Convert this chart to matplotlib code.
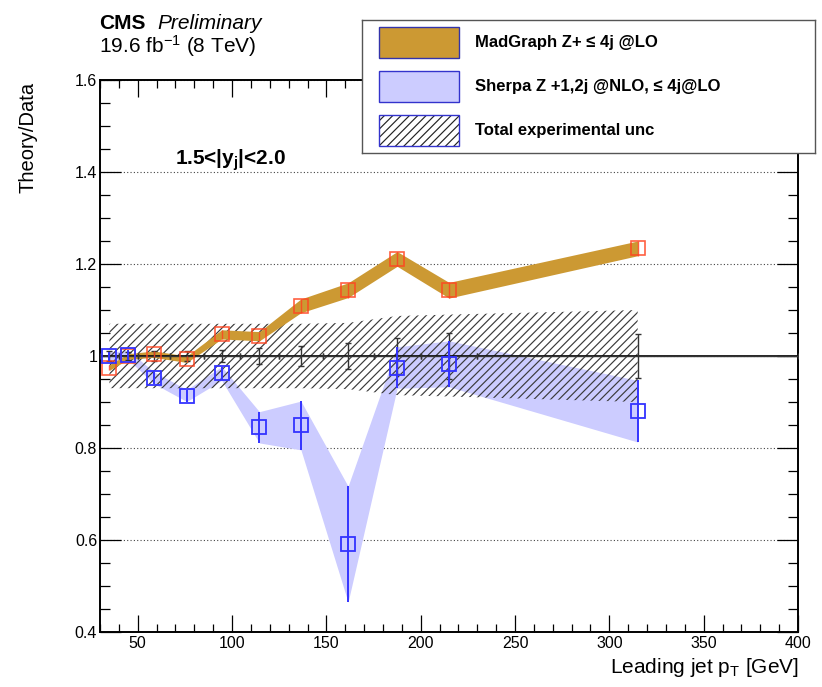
import numpy as np
import matplotlib
matplotlib.use('Agg')
import matplotlib.pyplot as plt
from matplotlib.patches import Rectangle
from matplotlib.ticker import MultipleLocator, FuncFormatter

plt.rcParams['font.family'] = ['Liberation Sans', 'DejaVu Sans']
plt.rcParams['mathtext.default'] = 'regular'
plt.rcParams['hatch.linewidth'] = 0.85

# ── Binning (leading jet pT, GeV) ─────────────────────────────────────────
pt_center = np.array([35, 45, 58.5, 76, 94.5, 114.5, 136.5, 161.5, 187.5, 215, 315])
pt_edges = np.array([30, 40, 50, 67, 85, 104, 125, 148, 175, 200, 230, 400])

# Data / data with its statistical error
data_err = np.array([0.010, 0.008, 0.010, 0.011, 0.014, 0.017, 0.022, 0.029, 0.040, 0.050, 0.047])

# Total experimental uncertainty band
unc_hi = np.array([1.070, 1.070, 1.070, 1.070, 1.070, 1.070, 1.070, 1.072, 1.087, 1.090, 1.100])
unc_lo = np.array([0.930, 0.930, 0.930, 0.930, 0.930, 0.930, 0.930, 0.928, 0.915, 0.912, 0.900])

# MadGraph Z + <=4j @LO
mg_ratio = np.array([0.975, 0.999, 1.004, 0.993, 1.047, 1.043, 1.109, 1.143, 1.211, 1.143, 1.234])
mg_err = np.array([0.006, 0.006, 0.007, 0.007, 0.010, 0.010, 0.015, 0.016, 0.016, 0.017, 0.016])

# Sherpa Z +1,2j @NLO, <=4j @LO
sh_ratio = np.array([0.999, 1.002, 0.953, 0.914, 0.962, 0.845, 0.849, 0.591, 0.975, 0.983, 0.880])
sh_err = np.array([0.010, 0.010, 0.013, 0.013, 0.015, 0.034, 0.053, 0.126, 0.045, 0.050, 0.067])

legend_labels = ['MadGraph Z+ \u2264 4j @LO',
                 'Sherpa Z +1,2j @NLO, \u2264 4j@LO',
                 'Total experimental unc']

MG_COL = '#cc9933'
SH_COL = '#ccccff'
SH_LINE = '#3333ff'
MG_MARK = '#ff4420'
HATCH = '////'

W, H = 822, 687
fig = plt.figure(figsize=(W / 100, H / 100), dpi=100)
ax = fig.add_axes([100 / W, 55 / H, 698 / W, 552 / H])

ax.fill_between(pt_center, sh_ratio - sh_err, sh_ratio + sh_err,
                color=SH_COL, lw=0, zorder=1)
ax.fill_between(pt_center, unc_lo, unc_hi, facecolor='none',
                edgecolor='#3a3a3a', hatch=HATCH, lw=0, zorder=2)
ax.fill_between(pt_center, mg_ratio - mg_err, mg_ratio + mg_err,
                color=MG_COL, lw=0, zorder=3)
ax.axhline(1.0, color='black', lw=1.2, zorder=4)

# data points sit at 1 by construction
ones = np.ones_like(pt_center)
xerr = [pt_center - pt_edges[:-1], pt_edges[1:] - pt_center]
ax.errorbar(pt_center, ones, xerr=xerr, yerr=data_err, fmt='none',
            ecolor='#333333', elinewidth=1.0, capsize=2.5, capthick=1.0, zorder=5)

ax.errorbar(pt_center, mg_ratio, yerr=mg_err, fmt='s', mfc='none',
            mec=MG_MARK, ecolor=MG_MARK, ms=9.5, mew=1.2, elinewidth=1.0,
            alpha=0.85, zorder=6)
ax.errorbar(pt_center, sh_ratio, yerr=sh_err, fmt='s', mfc='none',
            mec=SH_LINE, ecolor=SH_LINE, ms=9.5, mew=1.3, elinewidth=1.4,
            zorder=7)

ax.set_xlim(30, 400)
ax.set_ylim(0.4, 1.6)
ax.xaxis.set_major_locator(MultipleLocator(50))
ax.xaxis.set_minor_locator(MultipleLocator(10))
ax.yaxis.set_major_locator(MultipleLocator(0.2))
ax.yaxis.set_minor_locator(MultipleLocator(0.05))
ax.xaxis.set_major_formatter(FuncFormatter(lambda v, p: f'{v:g}'))
ax.yaxis.set_major_formatter(FuncFormatter(lambda v, p: f'{round(v, 2):g}'))
ax.tick_params(which='both', direction='in', top=True, right=True, width=0.9,
               labelsize=11.5, colors='black')
ax.tick_params(axis='x', which='major', length=12, pad=3)
ax.tick_params(axis='x', which='minor', length=6)
ax.tick_params(axis='y', which='major', length=15, pad=2)
ax.tick_params(axis='y', which='minor', length=7.5)
for s in ax.spines.values():
    s.set_linewidth(1.4)
ax.grid(axis='y', which='major', linestyle=(0, (1, 2)), color='#444444', lw=0.8)
ax.set_axisbelow(True)

fig.text(799 / W, 1 - 673 / H, 'Leading jet p$_{T}$ [GeV]', ha='right',
         va='baseline', fontsize=15)
fig.text(28 / W, 1 - 82 / H, 'Theory/Data', rotation=90, ha='center',
         va='top', fontsize=14.5)

fig.text(99 / W, 1 - 29 / H, 'CMS', fontweight='bold', fontsize=15, va='baseline')
fig.text(157 / W, 1 - 29 / H, 'Preliminary', fontstyle='italic', fontsize=15,
         va='baseline')
fig.text(99 / W, 1 - 53 / H, '19.6 fb$^{-1}$ (8 TeV)', fontsize=15, va='baseline')
fig.text(175 / W, 1 - 165 / H, '1.5<|y$_{j}$|<2.0', fontweight='bold',
         fontsize=15, va='baseline')

# legend box drawn in its own pixel-scaled axes
lax = fig.add_axes([362 / W, 1 - 153 / H, 453 / W, 133 / H])
lax.set_xlim(0, 453)
lax.set_ylim(133, 0)
lax.set_xticks([])
lax.set_yticks([])
for s in lax.spines.values():
    s.set_linewidth(1.0)
    s.set_edgecolor('#555555')

swatch_y = [7, 51, 95]
lax.add_patch(Rectangle((17, swatch_y[0]), 80, 31, facecolor=MG_COL,
                        edgecolor='#3333aa', lw=1))
lax.add_patch(Rectangle((17, swatch_y[1]), 80, 31, facecolor=SH_COL,
                        edgecolor='#3333cc', lw=1))
lax.add_patch(Rectangle((17, swatch_y[2]), 80, 31, facecolor='white',
                        edgecolor='#222222', lw=0, hatch=HATCH))
lax.add_patch(Rectangle((17, swatch_y[2]), 80, 31, facecolor='none',
                        edgecolor='#3333cc', lw=1))
for yy, lab in zip(swatch_y, legend_labels):
    lax.text(113, yy + 16, lab, fontsize=12, fontweight='bold', va='center')

fig.savefig('out.png', dpi=100)
